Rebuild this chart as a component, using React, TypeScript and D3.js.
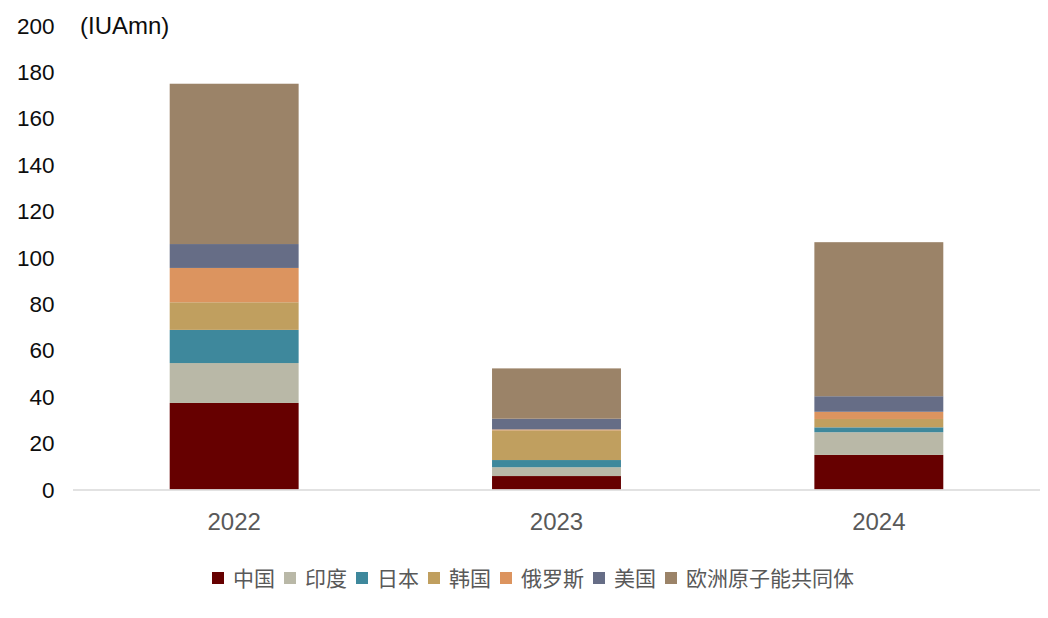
import React from "react";
import * as d3 from "d3";

const years = ["2022", "2023", "2024"];
const seriesNames = ["中国", "印度", "日本", "韩国", "俄罗斯", "美国", "欧洲原子能共同体"];
const seriesColors = ["#660000", "#b9b8a7", "#3e889c", "#c09f5f", "#dc945f", "#666d86", "#9b8368"];
const china = [37.3, 5.8, 14.9];
const india = [17.2, 3.8, 9.8];
const japan = [14.3, 3.1, 2.1];
const korea = [11.9, 12.8, 3.6];
const russia = [14.8, 0.4, 3.1];
const usa = [10.3, 4.6, 6.7];
const euratom = [69.1, 21.7, 66.4];
const yTicks = [0, 20, 40, 60, 80, 100, 120, 140, 160, 180, 200];

const W = 1048;
const H = 618;

export default function App() {
  const seriesValues = [china, india, japan, korea, russia, usa, euratom];
  const table = years.map((y, i) => {
    const row: Record<string, any> = { year: y };
    seriesNames.forEach((s, j) => (row[s] = seriesValues[j][i]));
    return row;
  });
  const stack = d3.stack<any>().keys(seriesNames)(table);

  const x = d3.scaleBand().domain(years).range([73, 1040]).paddingInner(0.6).paddingOuter(0.3);
  const y = d3.scaleLinear().domain([0, 200]).range([489.5, 25.5]);

  // legend layout
  const em = 21;
  let cx = 212;
  const legendItems = seriesNames.map((name, i) => {
    const item = { name, color: seriesColors[i], x: cx };
    cx += 21 + name.length * em + 9;
    return item;
  });

  return (
    <div style={{ position: "absolute", left: 0, top: 0 }}>
      <svg width={W} height={H} style={{ display: "block", background: "#fff" }}>
        {stack.map((layer, li) => (
          <g key={seriesNames[li]} fill={seriesColors[li]}>
            {layer.map((d, i) => (
              <rect
                key={i}
                x={x(years[i])}
                width={x.bandwidth()}
                y={y(d[1])}
                height={Math.max(0, y(d[0]) - y(d[1]))}
              />
            ))}
          </g>
        ))}
        <line x1={73} x2={1040} y1={490} y2={490} stroke="#d9d9d9" strokeWidth={1.5} />
        {yTicks.map((t) => (
          <text
            key={t}
            x={54.5}
            y={y(t)}
            dy="0.36em"
            textAnchor="end"
            fontFamily="'Liberation Sans', Arial, sans-serif"
            fontSize={22.5}
            fill="#0d0d0d"
          >
            {t}
          </text>
        ))}
        <text
          x={80}
          y={y(200)}
          dy="0.36em"
          fontFamily="'Liberation Sans', Arial, sans-serif"
          fontSize={24}
          fill="#0d0d0d"
        >
          (IUAmn)
        </text>
        {years.map((yr) => (
          <text
            key={yr}
            x={(x(yr) as number) + x.bandwidth() / 2}
            y={530}
            textAnchor="middle"
            fontFamily="'Liberation Sans', Arial, sans-serif"
            fontSize={24}
            fill="#595959"
          >
            {yr}
          </text>
        ))}
        {legendItems.map((it) => (
          <g key={it.name}>
            <rect x={it.x} y={572} width={12} height={12} fill={it.color} />
            <text
              x={it.x + 21}
              y={578}
              dy="0.36em"
              fontFamily="'Noto Sans CJK SC', sans-serif"
              fontSize={em}
              fill="#595959"
            >
              {it.name}
            </text>
          </g>
        ))}
      </svg>
    </div>
  );
}
